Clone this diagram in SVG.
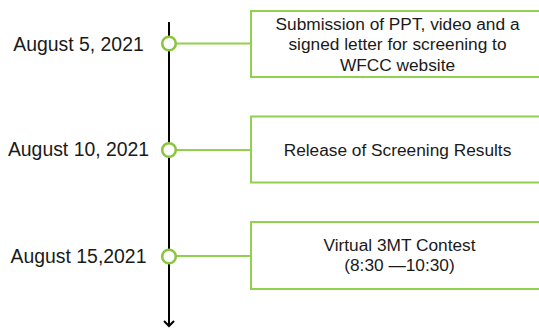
<svg xmlns="http://www.w3.org/2000/svg" width="539" height="328" viewBox="0 0 539 328">
<style>
.date{font-family:"Liberation Sans",Arial,sans-serif;font-size:19.4px;fill:#1a1a1a;text-anchor:middle}
.lbl{font-family:"Liberation Sans",Arial,sans-serif;font-size:17.3px;fill:#1a1a1a;text-anchor:middle}
.box{fill:#fff;stroke:#92d050;stroke-width:2}
.dot{fill:#fff;stroke:#8cc63f;stroke-width:2.6}
.con{stroke:#92d050;stroke-width:2;fill:none}
</style>
<rect width="539" height="328" fill="#fff"/>
<g id="connectors">
<line x1="169" y1="22" x2="169" y2="326" stroke="#000" stroke-width="2"/>
<polyline points="164,321 169,326 174,321" fill="none" stroke="#000" stroke-width="2"/>
<line class="con" x1="176" y1="43.5" x2="251" y2="43.5"/>
<line class="con" x1="176" y1="150" x2="251" y2="150"/>
<line class="con" x1="176" y1="256" x2="251" y2="256"/>
</g>
<g id="node1">
<circle class="dot" cx="169" cy="43.5" r="6.8"/>
<text class="date" x="78.5" y="50.5">August 5, 2021</text>
<rect class="box" x="251" y="11" width="295" height="66"/>
<text class="lbl" x="397.5" y="29.5">Submission of PPT, video and a</text>
<text class="lbl" x="397.5" y="50">signed letter for screening to</text>
<text class="lbl" x="397.5" y="70.5">WFCC website</text>
</g>
<g id="node2">
<circle class="dot" cx="169" cy="150" r="6.8"/>
<text class="date" x="78.5" y="156">August 10, 2021</text>
<rect class="box" x="251" y="116.5" width="295" height="66"/>
<text class="lbl" x="397.5" y="156">Release of Screening Results</text>
</g>
<g id="node3">
<circle class="dot" cx="169" cy="256.5" r="6.8"/>
<text class="date" x="78.5" y="263">August 15,2021</text>
<rect class="box" x="251" y="222" width="295" height="67"/>
<text class="lbl" x="399.5" y="250.5">Virtual 3MT Contest</text>
<text class="lbl" x="399.5" y="270.5">(8:30 —10:30)</text>
</g>
</svg>
